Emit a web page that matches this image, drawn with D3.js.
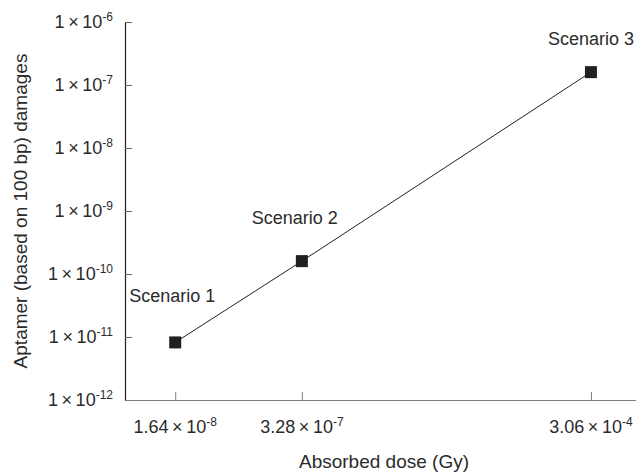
<!DOCTYPE html>
<html lang="en">
<head>
  <meta charset="utf-8" />
  <title>Aptamer damages vs absorbed dose</title>
  <script src="https://cdn.jsdelivr.net/npm/d3@7"></script>
  <style>
    body { margin: 0; background: #fff; }
    text { font-family: "Liberation Sans", Arial, sans-serif; fill: #2b2b2b; }
  </style>
</head>
<body>
<script>
  // data
  var scenarios = ["Scenario 1", "Scenario 2", "Scenario 3"];
  var doses = [1.64e-8, 3.28e-7, 3.06e-4];      // Gy
  var damages = [8.2e-12, 1.6e-10, 1.6e-7];     // per 100 bp
  var yTicks = [1e-12, 1e-11, 1e-10, 1e-9, 1e-8, 1e-7, 1e-6];

  // where each scenario label sits relative to its marker
  var labelOffset = [[-3, -40], [-7, -37], [0, -27]];

  var w = 636;
  var h = 472;
  var plotLeft = 125, plotRight = 641, plotTop = 22, plotBottom = 400;

  var svg = d3.select("body")
            .append("svg")
            .attr("width", w)
            .attr("height", h);

  var x = d3.scaleLog().domain([5e-9, 1e-3]).range([plotLeft, plotRight]);
  var y = d3.scaleLog().domain([1e-12, 1e-6]).range([plotBottom, plotTop]);

  var points = doses.map(function(d, i) {
    return {dose: d, dmg: damages[i], name: scenarios[i]};
  });

  // x axis: grey line, ticks pointing up
  var xAxis = svg.append("g")
      .attr("transform", "translate(0," + plotBottom + ")")
      .call(d3.axisBottom(x).tickValues(doses).tickSizeInner(-8).tickSizeOuter(0).tickFormat(""));
  xAxis.select(".domain").attr("stroke", "#808080").attr("stroke-width", 1.2);
  xAxis.selectAll(".tick line").attr("stroke", "#808080");

  // y axis: dark line, ticks pointing right
  var yAxis = svg.append("g")
      .attr("transform", "translate(" + plotLeft + ",0)")
      .call(d3.axisLeft(y).tickValues(yTicks.slice(1)).tickSizeInner(-7).tickSizeOuter(0).tickFormat(""));
  yAxis.select(".domain").attr("stroke", "#231f20").attr("stroke-width", 1.2);
  yAxis.selectAll(".tick line").attr("stroke", "#666");

  // y tick labels: 1 × 10^n
  var yl = svg.selectAll("text.ylab")
      .data(yTicks)
      .enter()
      .append("text")
      .attr("class", "ylab")
      .attr("x", 113)
      .attr("y", function(d) { return y(d) + 6; })
      .attr("text-anchor", "end")
      .attr("font-size", "18px");
  yl.append("tspan").text("1\u2009\u00d7\u200910");
  yl.append("tspan")
      .attr("font-size", "12px")
      .attr("dy", -7)
      .text(function(d) { return Math.round(Math.log10(d)); });

  // x tick labels: mantissa × 10^n
  var xl = svg.selectAll("text.xlab")
      .data(doses)
      .enter()
      .append("text")
      .attr("class", "xlab")
      .attr("x", function(d) { return x(d); })
      .attr("y", 433)
      .attr("text-anchor", "middle")
      .attr("font-size", "18px");
  xl.append("tspan").text(function(d) { return d.toExponential(2).split("e")[0] + "\u2009\u00d7\u200910"; });
  xl.append("tspan")
      .attr("font-size", "12px")
      .attr("dy", -7)
      .text(function(d) { return +d.toExponential(2).split("e")[1]; });

  // connecting line
  svg.append("path")
      .datum(points)
      .attr("fill", "none")
      .attr("stroke", "#231f20")
      .attr("stroke-width", 1)
      .attr("d", d3.line()
          .x(function(d) { return x(d.dose); })
          .y(function(d) { return y(d.dmg); }));

  // square markers
  svg.selectAll("rect.pt")
      .data(points)
      .enter()
      .append("rect")
      .attr("class", "pt")
      .attr("x", function(d) { return x(d.dose) - 6; })
      .attr("y", function(d) { return y(d.dmg) - 6; })
      .attr("width", 12)
      .attr("height", 12)
      .attr("fill", "#231f20");

  // scenario labels
  svg.selectAll("text.scen")
      .data(points)
      .enter()
      .append("text")
      .attr("class", "scen")
      .attr("x", function(d, i) { return x(d.dose) + labelOffset[i][0]; })
      .attr("y", function(d, i) { return y(d.dmg) + labelOffset[i][1]; })
      .attr("text-anchor", "middle")
      .attr("font-size", "18px")
      .text(function(d) { return d.name; });

  // axis titles
  svg.append("text")
      .attr("x", 384)
      .attr("y", 468)
      .attr("text-anchor", "middle")
      .attr("font-size", "19px")
      .text("Absorbed dose (Gy)");

  svg.append("text")
      .attr("transform", "translate(27," + ((plotTop + plotBottom) / 2) + ") rotate(-90)")
      .attr("text-anchor", "middle")
      .attr("font-size", "19px")
      .text("Aptamer (based on 100 bp) damages");
</script>
</body>
</html>
